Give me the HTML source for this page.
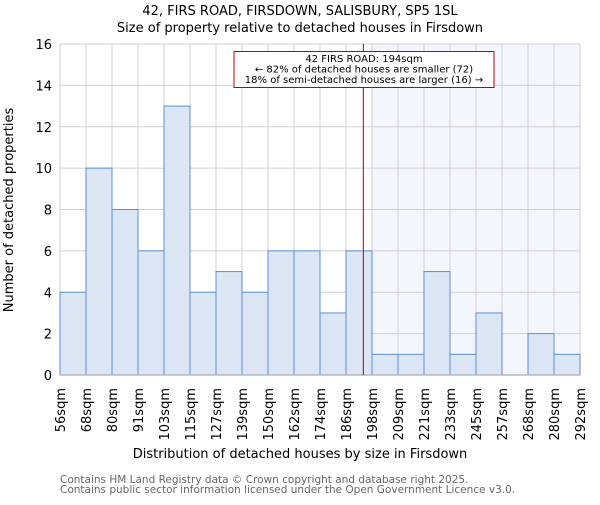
<!DOCTYPE html>
<html><head><meta charset="utf-8"><style>
body{margin:0;background:#fff}
svg text{font-family:"DejaVu Sans","Liberation Sans",sans-serif}
</style></head><body>
<svg id="c" width="600" height="500" xmlns="http://www.w3.org/2000/svg">
<text x="300" y="15" text-anchor="middle" font-size="13">42, FIRS ROAD, FIRSDOWN, SALISBURY, SP5 1SL</text>
<text x="300" y="32" text-anchor="middle" font-size="13">Size of property relative to detached houses in Firsdown</text>
<g id="plot"></g>
<text x="300" y="458" text-anchor="middle" font-size="13">Distribution of detached houses by size in Firsdown</text>
<text transform="translate(13,210) rotate(-90)" text-anchor="middle" font-size="13">Number of detached properties</text>
<text x="60" y="483" font-size="10.5" fill="#666">Contains HM Land Registry data © Crown copyright and database right 2025.</text>
<text x="60" y="493" font-size="10.5" fill="#666">Contains public sector information licensed under the Open Government Licence v3.0.</text>
</svg>
<script>
const categories=["56sqm","68sqm","80sqm","91sqm","103sqm","115sqm","127sqm","139sqm","150sqm","162sqm","174sqm","186sqm","198sqm","209sqm","221sqm","233sqm","245sqm","257sqm","268sqm","280sqm","292sqm"];
const counts=[4,10,8,6,13,4,5,4,6,6,3,6,1,1,5,1,3,0,2,1];
const yTicks=[0,2,4,6,8,10,12,14,16];
const propertySize=194;
const binEdges=[56,68,80,91,103,115,127,139,150,162,174,186,198,209,221,233,245,257,268,280,292];
const NS="http://www.w3.org/2000/svg";
const L=60,R=580,T=44,B=375,yMax=16;
const bw=(R-L)/counts.length;
const x=i=>L+i*bw;
const y=v=>B-(v/yMax)*(B-T);
function xVal(v){for(let i=0;i<binEdges.length-1;i++){if(v<=binEdges[i+1])return x(i)+(v-binEdges[i])/(binEdges[i+1]-binEdges[i])*bw;}return R;}
const g=document.getElementById('plot');
function mk(t,a){const e=document.createElementNS(NS,t);for(const k in a)e.setAttribute(k,a[k]);g.appendChild(e);return e;}
let si=binEdges.findIndex(e=>e>propertySize);
let sh=mk('rect',{x:x(si),y:T,width:R-x(si),height:B-T,fill:'#f3f6fd'});


yTicks.forEach(t=>{let l=mk('line',{x1:L,x2:R,y1:y(t),y2:y(t),stroke:'#d0d0d0','stroke-width':1});


let tx=mk('text',{x:L-8,y:y(t)+5,'text-anchor':'end','font-size':13});tx.textContent=t;

});
categories.forEach((c,i)=>{let l=mk('line',{x1:x(i),x2:x(i),y1:T,y2:B,stroke:'#d0d0d0','stroke-width':1});


let tx=mk('text',{transform:`translate(${x(i)+5},${B+13}) rotate(-90)`,'text-anchor':'end','font-size':13});tx.textContent=c;

});
counts.forEach((v,i)=>{if(v<=0)return;let r=mk('rect',{x:x(i),y:y(v),width:bw,height:B-y(v),fill:'#dce6f4',stroke:'#5a8fd8','stroke-width':1});

});
let bl=mk('line',{x1:L,x2:R,y1:B,y2:B,stroke:'#b0b8c8','stroke-width':1.5});


const px=xVal(propertySize);
let ml=mk('line',{x1:px,x2:px,y1:T,y2:B,stroke:'#b00000','stroke-width':1});


let box=mk('rect',{x:234,y:51.5,width:260,height:36,fill:'#fff',stroke:'#c00000','stroke-width':1});


["42 FIRS ROAD: 194sqm","← 82% of detached houses are smaller (72)","18% of semi-detached houses are larger (16) →"].forEach((s,k)=>{
let tx=mk('text',{x:364,y:62+k*10.5,'text-anchor':'middle','font-size':10});tx.textContent=s;

});
</script>
</body></html>
